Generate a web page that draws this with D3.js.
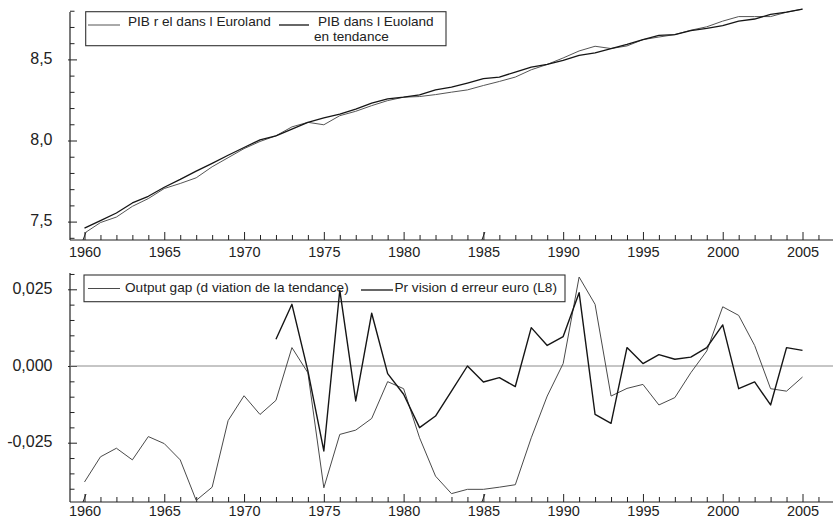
<!DOCTYPE html>
<html><head><meta charset="utf-8">
<script src="https://cdn.jsdelivr.net/npm/d3@7"></script>
<style>
html,body{margin:0;padding:0;background:#fff;}
svg{display:block;font-family:"Liberation Sans",Arial,sans-serif;}
</style></head>
<body><svg id="c" width="833" height="520"></svg>
<script>
// ---- data ----
const years = [1960,1961,1962,1963,1964,1965,1966,1967,1968,1969,
               1970,1971,1972,1973,1974,1975,1976,1977,1978,1979,
               1980,1981,1982,1983,1984,1985,1986,1987,1988,1989,
               1990,1991,1992,1993,1994,1995,1996,1997,1998,1999,
               2000,2001,2002,2003,2004,2005];
const pibReel = [7.429,7.494,7.528,7.594,7.642,7.704,7.735,7.770,7.838,7.894,
                 7.950,7.994,8.029,8.084,8.112,8.097,8.153,8.180,8.215,8.246,
                 8.267,8.271,8.283,8.298,8.312,8.339,8.364,8.391,8.436,8.469,
                 8.509,8.552,8.581,8.567,8.583,8.622,8.638,8.653,8.680,8.701,
                 8.736,8.764,8.764,8.764,8.791,8.810];
const pibTendance = [7.460,7.506,7.553,7.615,7.656,7.712,7.760,7.811,7.859,7.909,
                     7.957,8.004,8.029,8.070,8.112,8.139,8.163,8.194,8.230,8.257,
                     8.267,8.281,8.312,8.329,8.354,8.381,8.391,8.422,8.453,8.469,
                     8.494,8.525,8.540,8.567,8.593,8.622,8.648,8.653,8.677,8.691,
                     8.708,8.736,8.749,8.778,8.791,8.810];
const outputGap = [-0.0378,-0.0296,-0.0268,-0.0306,-0.0230,-0.0253,-0.0306,-0.0438,-0.0395,-0.0178,
                   -0.0097,-0.0158,-0.0112,0.0060,-0.0022,-0.0397,-0.0223,-0.0209,-0.0171,-0.0051,
                   -0.0074,-0.0234,-0.0359,-0.0416,-0.0402,-0.0402,-0.0395,-0.0387,-0.0234,-0.0098,
                   0.0008,0.0290,0.0201,-0.0098,-0.0073,-0.0060,-0.0127,-0.0103,-0.0022,0.0049,
                   0.0193,0.0165,0.0067,-0.0074,-0.0082,-0.0036];
const prevision = [null,null,null,null,null,null,null,null,null,null,
                   null,null,0.0087,0.0201,-0.0016,-0.0277,0.0247,-0.0114,0.0172,-0.0025,
                   -0.0092,-0.0201,-0.0163,-0.0082,0.0000,-0.0052,-0.0038,-0.0067,0.0125,0.0067,
                   0.0096,0.0239,-0.0158,-0.0187,0.0060,0.0008,0.0037,0.0022,0.0029,0.0060,
                   0.0134,-0.0074,-0.0052,-0.0127,0.0060,0.0051];
const xMajor = [1960,1965,1970,1975,1980,1985,1990,1995,2000,2005];
const topMajor = [7.5,8.0,8.5];
const botMajor = [-0.025,0.000,0.025];
const legendTop = ["PIB r el dans l Euroland","PIB dans l Euoland","en tendance"];
const legendBot = ["Output gap (d viation de la tendance)","Pr vision d erreur euro (L8)"];

// ---- setup ----
const svg = d3.select("#c");
const loc = d3.formatLocale({decimal:",",thousands:".",grouping:[3],currency:["","€"],minus:"-"});
const AX = 70, RIGHT = 833;
const x = d3.scaleLinear().domain([1960,2005]).range([84.5,802.5]);
const xMinor = d3.range(1960,2007).filter(d => xMajor.indexOf(d) < 0);

const panels = [
  {top:12, bot:240, pad:6.5, y:d3.scaleLinear().domain([7.5,8.5]).range([221.6,59.4]),
   major:topMajor, minor:d3.range(74,89).map(d=>d/10).filter(d=>topMajor.indexOf(d)<0), fmt:loc.format(".1f")},
  {top:273, bot:502, pad:4, y:d3.scaleLinear().domain([-0.025,0.025]).range([442.7,289.3]),
   major:botMajor, minor:d3.range(-8,7).map(d=>d*0.005).filter(d=>Math.abs(d%0.025)>1e-9 && Math.abs(Math.abs(d%0.025)-0.025)>1e-9), fmt:loc.format(".3f")}
];

const ink = "#222";

function drawAxes(p){
  const g = svg.append("g");
  // x axis
  g.append("line").attr("x1",AX).attr("x2",RIGHT).attr("y1",p.bot).attr("y2",p.bot)
    .attr("stroke",ink).attr("stroke-width",1.2);
  const xa = g.append("g").attr("transform",`translate(0,${p.bot})`)
    .call(d3.axisBottom(x).tickValues(xMajor).tickSize(-8).tickPadding(p.pad).tickFormat(d3.format("d")));
  xa.select(".domain").remove();
  xa.selectAll("line").attr("stroke",ink);
  xa.selectAll("text").attr("font-size",14.5).attr("fill",ink).attr("font-family","Liberation Sans, Arial, sans-serif");
  const xm = g.append("g").attr("transform",`translate(0,${p.bot})`)
    .call(d3.axisBottom(x).tickValues(xMinor).tickSize(-5).tickFormat(""));
  xm.select(".domain").remove();
  xm.selectAll("line").attr("stroke",ink);
  // break marks
  [1960,1985].forEach(yr=>{
    g.append("line").attr("x1",x(yr)-1.5).attr("y1",p.bot).attr("x2",x(yr)+1.5).attr("y2",p.bot-8)
      .attr("stroke",ink).attr("stroke-width",1);
  });
  // y axis
  g.append("line").attr("x1",AX).attr("x2",AX).attr("y1",p.top).attr("y2",p.bot)
    .attr("stroke",ink).attr("stroke-width",1.2);
  const ya = g.append("g").attr("transform",`translate(${AX},0)`)
    .call(d3.axisLeft(p.y).tickValues(p.major).tickSize(-7).tickPadding(17.5).tickFormat(p.fmt));
  ya.select(".domain").remove();
  ya.selectAll("line").attr("x1",-2).attr("stroke",ink);
  ya.selectAll("text").attr("font-size",16).attr("dy","0.26em").attr("fill",ink).attr("font-family","Liberation Sans, Arial, sans-serif");
  const ym = g.append("g").attr("transform",`translate(${AX},0)`)
    .call(d3.axisLeft(p.y).tickValues(p.minor).tickSize(-4.5).tickFormat(""));
  ym.select(".domain").remove();
  ym.selectAll("line").attr("stroke",ink);
}
panels.forEach(drawAxes);

// ---- legends ----
function legendBox(x0,y0,x1,y1){
  svg.append("rect").attr("x",x0).attr("y",y0).attr("width",x1-x0).attr("height",y1-y0)
    .attr("fill","#fff").attr("stroke","#333").attr("stroke-width",1.1);
}
function sample(x0,x1,yy,col,w){
  svg.append("line").attr("x1",x0).attr("x2",x1).attr("y1",yy).attr("y2",yy).attr("stroke",col).attr("stroke-width",w);
}
function label(t,xx,yy){
  svg.append("text").attr("x",xx).attr("y",yy).attr("font-size",13.6).attr("fill",ink).text(t);
}
const cReal = "#555", cTrend = "#151515", cGap = "#4a4a4a", cPrev = "#151515";
legendBox(85.7,11.7,446,45.7);
sample(88,120,25,cReal,1);
label(legendTop[0],128,25.7);
sample(279,309,25,cTrend,1.3);
label(legendTop[1],318,25.7);
label(legendTop[2],314,41.4);

legendBox(84,275,565,301.7);
sample(88,120,288.5,cGap,1);
label(legendBot[0],125,291.5);
sample(361,393,290,cPrev,1.3);
label(legendBot[1],394.5,291.5);

// ---- zero line ----
const yb = panels[1].y, yt = panels[0].y;
svg.append("line").attr("x1",AX).attr("x2",RIGHT).attr("y1",yb(0)).attr("y2",yb(0))
  .attr("stroke","#8c8c8c").attr("stroke-width",1);

// ---- series ----
function drawLine(vals,ys,col,w){
  const line = d3.line().defined(d=>d[1]!==null).x(d=>x(d[0])).y(d=>ys(d[1]));
  svg.append("path").datum(years.map((yr,i)=>[yr,vals[i]]))
    .attr("d",line).attr("fill","none").attr("stroke",col).attr("stroke-width",w).attr("stroke-linejoin","round");
}
drawLine(pibReel,yt,cReal,1);
drawLine(pibTendance,yt,cTrend,1.3);
drawLine(outputGap,yb,cGap,1);
drawLine(prevision,yb,cPrev,1.4);
</script></body></html>
